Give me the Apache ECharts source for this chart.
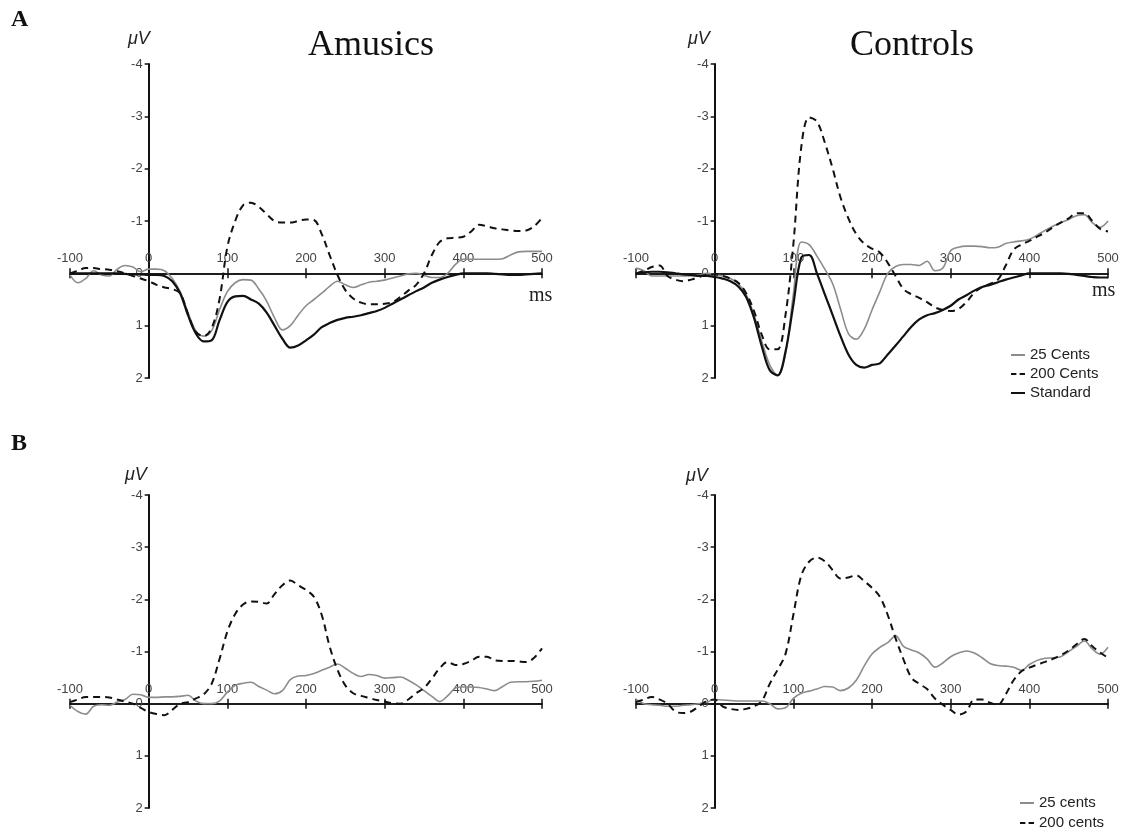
<!DOCTYPE html>
<html>
<head>
<meta charset="utf-8">
<script src="https://cdn.jsdelivr.net/npm/echarts@6/dist/echarts.min.js"></script>
<style>
html,body{margin:0;padding:0;background:#fff;}
#chart{width:1136px;height:833px;}
</style>
</head>
<body>
<div id="chart"></div>
<script>
// time points (ms)
var times = [-100,-90,-80,-70,-60,-50,-40,-30,-20,-10,0,10,20,30,40,50,60,70,80,90,100,110,120,130,140,150,160,170,180,190,200,210,220,230,240,250,260,270,280,290,300,310,320,330,340,350,360,370,380,390,400,410,420,430,440,450,460,470,480,490,500];
var xTicks = ['-100','0','100','200','300','400','500'];
var yTicks = ['-4','-3','-2','-1','0','1','2'];

// Panel A - Amusics
var amusA_25 = [0.03,0.18,0.1,-0.05,0.03,0.05,-0.08,-0.15,-0.12,-0.03,-0.08,-0.08,-0.05,0.1,0.35,0.75,1.1,1.2,1.1,0.7,0.35,0.18,0.12,0.13,0.3,0.53,0.85,1.08,1.0,0.8,0.62,0.5,0.38,0.25,0.15,0.22,0.27,0.22,0.17,0.15,0.13,0.09,0.05,0.01,0.0,0.04,0.08,0.08,0.0,-0.17,-0.27,-0.27,-0.27,-0.27,-0.27,-0.28,-0.35,-0.41,-0.42,-0.42,-0.42];
var amusA_200 = [0.0,-0.05,-0.1,-0.1,-0.08,-0.07,-0.04,0.0,0.05,0.1,0.15,0.22,0.27,0.3,0.38,0.78,1.12,1.2,1.05,0.5,-0.5,-1.0,-1.3,-1.35,-1.27,-1.13,-1.0,-0.97,-0.97,-1.0,-1.03,-1.02,-0.75,-0.35,0.03,0.32,0.48,0.56,0.59,0.59,0.58,0.55,0.45,0.33,0.22,0.0,-0.35,-0.6,-0.67,-0.68,-0.7,-0.8,-0.93,-0.9,-0.86,-0.84,-0.82,-0.81,-0.82,-0.9,-1.06];
var amusA_std = [0.0,0.0,0.0,0.0,0.0,0.0,0.0,0.01,0.02,0.02,0.03,0.03,0.05,0.15,0.38,0.8,1.15,1.3,1.28,0.9,0.55,0.44,0.43,0.5,0.58,0.75,1.0,1.25,1.42,1.38,1.28,1.17,1.03,0.95,0.89,0.85,0.83,0.8,0.76,0.72,0.66,0.58,0.5,0.42,0.34,0.27,0.18,0.12,0.07,0.03,0.0,0.0,0.0,0.0,0.01,0.02,0.03,0.03,0.02,0.01,0.0];

// Panel A - Controls
var ctrlA_25 = [-0.1,-0.05,0.05,0.05,0.05,0.05,0.05,0.05,0.03,0.0,0.02,0.05,0.1,0.2,0.4,0.8,1.3,1.75,1.95,1.55,0.4,-0.6,-0.55,-0.33,-0.08,0.2,0.68,1.15,1.26,1.07,0.7,0.35,0.0,-0.13,-0.17,-0.17,-0.15,-0.23,-0.05,-0.1,-0.43,-0.5,-0.52,-0.52,-0.51,-0.49,-0.5,-0.57,-0.6,-0.62,-0.65,-0.73,-0.82,-0.9,-0.97,-1.03,-1.1,-1.12,-0.97,-0.88,-1.0];
var ctrlA_200 = [0.0,-0.05,-0.12,-0.15,0.05,0.12,0.15,0.12,0.07,0.03,0.02,0.05,0.1,0.18,0.38,0.72,1.18,1.45,1.45,0.8,-0.55,-2.4,-2.98,-2.9,-2.5,-2.0,-1.45,-1.05,-0.75,-0.57,-0.47,-0.4,-0.2,0.05,0.3,0.4,0.47,0.55,0.65,0.7,0.72,0.68,0.55,0.37,0.26,0.2,0.12,-0.15,-0.45,-0.55,-0.62,-0.7,-0.78,-0.88,-0.97,-1.05,-1.15,-1.15,-1.0,-0.85,-0.8];
var ctrlA_std = [0.0,-0.02,-0.03,-0.03,-0.02,0.0,0.02,0.03,0.05,0.05,0.07,0.1,0.15,0.25,0.45,0.85,1.4,1.85,1.95,1.5,0.6,-0.3,-0.35,0.0,0.4,0.8,1.2,1.55,1.75,1.8,1.75,1.72,1.55,1.38,1.2,1.02,0.88,0.8,0.76,0.7,0.62,0.5,0.42,0.33,0.26,0.22,0.17,0.12,0.08,0.04,0.0,0.0,0.0,0.0,0.0,0.01,0.03,0.05,0.07,0.08,0.08];

// Panel B - Amusics
var amusB_25 = [0.03,0.15,0.2,0.05,0.02,0.03,-0.03,-0.08,-0.18,-0.17,-0.12,-0.12,-0.13,-0.13,-0.14,-0.16,-0.05,0.0,0.0,-0.05,-0.22,-0.35,-0.39,-0.41,-0.33,-0.26,-0.19,-0.25,-0.46,-0.53,-0.54,-0.58,-0.64,-0.7,-0.76,-0.68,-0.58,-0.52,-0.56,-0.54,-0.49,-0.5,-0.51,-0.45,-0.36,-0.25,-0.14,-0.04,-0.15,-0.3,-0.32,-0.32,-0.31,-0.28,-0.25,-0.33,-0.41,-0.42,-0.42,-0.43,-0.45];
var amusB_200 = [-0.03,-0.08,-0.13,-0.13,-0.13,-0.12,-0.08,-0.04,0.0,0.08,0.16,0.2,0.22,0.12,0.0,-0.03,-0.1,-0.18,-0.38,-0.85,-1.38,-1.72,-1.9,-1.96,-1.95,-1.92,-2.1,-2.27,-2.36,-2.27,-2.18,-2.05,-1.7,-1.1,-0.65,-0.35,-0.2,-0.15,-0.11,-0.07,-0.04,-0.01,0.0,-0.08,-0.2,-0.3,-0.48,-0.68,-0.8,-0.74,-0.76,-0.82,-0.9,-0.9,-0.83,-0.82,-0.82,-0.81,-0.8,-0.88,-1.06];

// Panel B - Controls
var ctrlB_25 = [-0.08,0.0,0.02,0.03,0.05,0.05,0.03,0.02,0.0,-0.03,-0.08,-0.07,-0.06,-0.05,-0.05,-0.05,-0.05,0.0,0.1,0.08,-0.1,-0.2,-0.24,-0.28,-0.33,-0.32,-0.25,-0.3,-0.45,-0.72,-0.95,-1.08,-1.17,-1.3,-1.1,-1.03,-0.97,-0.86,-0.7,-0.78,-0.9,-0.97,-1.01,-0.97,-0.88,-0.77,-0.73,-0.72,-0.7,-0.64,-0.75,-0.83,-0.87,-0.88,-0.9,-1.0,-1.1,-1.2,-1.05,-0.95,-1.08];
var ctrlB_200 = [-0.03,-0.08,-0.13,-0.08,0.0,0.15,0.18,0.15,0.05,-0.05,-0.08,0.05,0.1,0.12,0.1,0.05,-0.05,-0.38,-0.65,-0.95,-1.7,-2.45,-2.72,-2.8,-2.73,-2.56,-2.4,-2.42,-2.46,-2.35,-2.22,-2.05,-1.7,-1.25,-0.85,-0.5,-0.38,-0.28,-0.1,0.02,0.12,0.21,0.15,-0.08,-0.08,-0.02,0.02,-0.18,-0.45,-0.62,-0.69,-0.75,-0.8,-0.86,-0.93,-1.02,-1.14,-1.24,-1.1,-0.98,-0.88];

function pairs(vals){ return times.map(function(t,i){ return [t, vals[i]]; }); }

var GREY = '#8c8c8c', BLACK = '#111111';
var X_MIN = -100, X_MAX = 500, Y_MIN = -4, Y_MAX = 2;
// panel boxes (plot area spanning x -100..500, y -4..2)
var panels = [
  {left:70, top:64, width:472, height:314},
  {left:636, top:64, width:472, height:314},
  {left:70, top:495, width:472, height:313},
  {left:636, top:495, width:472, height:313}
];
var axisFont = {fontFamily:'Liberation Sans, Arial, sans-serif', fontSize:13, color:'#444'};
var lineBlack = {color:'#111', width:1.5};

var grids = [], xAxes = [], yAxes = [];
panels.forEach(function(p){
  var xZero = p.left + p.width * (0 - X_MIN) / (X_MAX - X_MIN);
  var yZero = p.top + p.height * (0 - Y_MIN) / (Y_MAX - Y_MIN);
  var base = grids.length;
  // 0: main plotting grid
  grids.push({left:p.left, top:p.top, width:p.width, height:p.height});
  xAxes.push({type:'value', gridIndex:base, min:X_MIN, max:X_MAX, show:false});
  yAxes.push({type:'value', gridIndex:base, min:Y_MIN, max:Y_MAX, inverse:true, show:false});
  // 1: y-axis grid whose left edge sits at x = 0
  grids.push({left:xZero, top:p.top, width:p.left + p.width - xZero, height:p.height});
  xAxes.push({type:'value', gridIndex:base+1, min:0, max:X_MAX, show:false});
  yAxes.push({type:'value', gridIndex:base+1, min:Y_MIN, max:Y_MAX, interval:1, inverse:true, position:'left',
    axisLine:{show:true, onZero:false, lineStyle:{color:'#111', width:2}},
    axisTick:{show:true, length:4, lineStyle:lineBlack},
    axisLabel:Object.assign({margin:6, formatter:function(v){ return yTicks[v - Y_MIN]; }}, axisFont),
    splitLine:{show:false}});
  // 2: grid below the zero line -> top axis with labels, ticks up
  grids.push({left:p.left, top:yZero, width:p.width, height:30});
  xAxes.push({type:'value', gridIndex:base+2, position:'top', min:X_MIN, max:X_MAX, interval:100,
    axisLine:{show:true, onZero:false, lineStyle:lineBlack},
    axisTick:{show:true, length:5, lineStyle:lineBlack},
    axisLabel:Object.assign({margin:8, formatter:function(v){ return xTicks[(v - X_MIN)/100]; }}, axisFont),
    splitLine:{show:false}});
  yAxes.push({type:'value', gridIndex:base+2, min:0, max:1, show:false});
  // 3: grid above the zero line -> bottom axis, ticks down
  grids.push({left:p.left, top:yZero - 30, width:p.width, height:30});
  xAxes.push({type:'value', gridIndex:base+3, position:'bottom', min:X_MIN, max:X_MAX, interval:100,
    axisLine:{show:true, onZero:false, lineStyle:lineBlack},
    axisTick:{show:true, length:5, lineStyle:lineBlack},
    axisLabel:{show:false}, splitLine:{show:false}});
  yAxes.push({type:'value', gridIndex:base+3, min:0, max:1, show:false});
});

function ser(name, vals, panel, kind){
  var idx = panel * 4;
  var ls = kind === 'grey' ? {color:GREY, width:1.6, type:'solid'}
         : kind === 'dash' ? {color:BLACK, width:2, type:[7,5]}
         : {color:BLACK, width:2.2, type:'solid'};
  return {name:name, type:'line', xAxisIndex:idx, yAxisIndex:idx, data:pairs(vals),
    showSymbol:false, symbol:'none', smooth:0.35, lineStyle:ls, itemStyle:{color:ls.color},
    silent:true, z: kind==='grey'?2:(kind==='dash'?3:4)};
}

var ICON_SOLID = 'path://M0,0 L14,0 L14,2 L0,2 Z';
var ICON_DASH = 'path://M0,0 L5,0 L5,2 L0,2 Z M8,0 L13,0 L13,2 L8,2 Z';
var serifFont = 'Liberation Serif, Times New Roman, serif';
var muStyle = {fontFamily:'Liberation Sans, Arial', fontSize:18, fontStyle:'italic', fontWeight:'normal', color:'#222'};
var legendText = {fontFamily:'Liberation Sans, Arial', fontSize:15, color:'#222', lineHeight:16};
var msStyle = {fontFamily:serifFont, fontSize:20, fontWeight:'normal', color:'#222'};
var headStyle = {fontFamily:serifFont, fontSize:36, fontWeight:'normal', color:'#111'};
var letterStyle = {fontFamily:serifFont, fontSize:24, fontWeight:'bold', color:'#111'};

var option = {
  animation:false,
  backgroundColor:'#fff',
  title:[
    {text:'A', left:6, top:3, textStyle:letterStyle},
    {text:'B', left:6, top:427, textStyle:letterStyle},
    {text:'Amusics', left:303, top:23, textStyle:headStyle},
    {text:'Controls', left:845, top:23, textStyle:headStyle},
    {text:'μV', left:123, top:25, textStyle:muStyle},
    {text:'μV', left:683, top:25, textStyle:muStyle},
    {text:'μV', left:120, top:461, textStyle:muStyle},
    {text:'μV', left:681, top:462, textStyle:muStyle},
    {text:'ms', left:524, top:281, textStyle:msStyle},
    {text:'ms', left:1087, top:276, textStyle:msStyle}
  ],
  legend:[
    {data:[{name:'25 Cents', icon:ICON_SOLID},{name:'200 Cents', icon:ICON_DASH},{name:'Standard', icon:ICON_SOLID}],
     orient:'vertical', left:1011, top:347, padding:0,
     itemWidth:14, itemHeight:3, itemGap:3, itemStyle:{borderWidth:0}, selectedMode:false, textStyle:legendText},
    {data:[{name:'25 cents', icon:ICON_SOLID},{name:'200 cents', icon:ICON_DASH}],
     orient:'vertical', left:1020, top:795, padding:0,
     itemWidth:14, itemHeight:3, itemGap:4, itemStyle:{borderWidth:0}, selectedMode:false, textStyle:legendText}
  ],
  grid:grids,
  xAxis:xAxes,
  yAxis:yAxes,
  series:[
    ser('25 Cents', amusA_25, 0, 'grey'),
    ser('200 Cents', amusA_200, 0, 'dash'),
    ser('Standard', amusA_std, 0, 'black'),
    ser('25 Cents', ctrlA_25, 1, 'grey'),
    ser('200 Cents', ctrlA_200, 1, 'dash'),
    ser('Standard', ctrlA_std, 1, 'black'),
    ser('25 cents', amusB_25, 2, 'grey'),
    ser('200 cents', amusB_200, 2, 'dash'),
    ser('25 cents', ctrlB_25, 3, 'grey'),
    ser('200 cents', ctrlB_200, 3, 'dash')
  ]
};
var chart = echarts.init(document.getElementById('chart'), null, {renderer:'canvas'});
chart.setOption(option);
</script>
</body>
</html>
